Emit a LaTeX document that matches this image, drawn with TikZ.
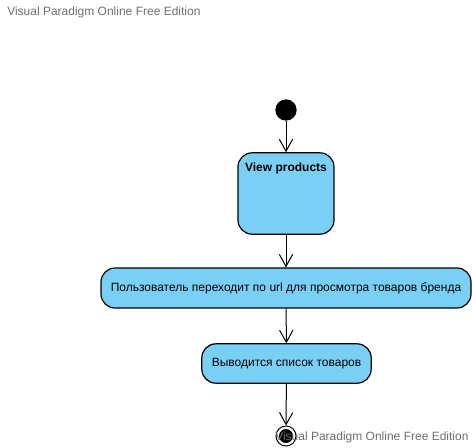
\documentclass[tikz,border=0pt]{standalone}
\usepackage{fontspec}
\setmainfont{Liberation Sans}
\usetikzlibrary{arrows.meta}
\definecolor{actfill}{HTML}{7ACFF5}
\definecolor{wmgray}{HTML}{6E6E6E}
\tikzset{
  act/.style={draw=black, line width=0.9pt, fill=actfill, rounded corners=10.5pt, inner sep=0pt, font=\fontsize{9}{11}\selectfont},
  flow/.style={draw=black, line width=0.75pt, -{Straight Barb[length=9pt,width=10pt,line width=0.75pt]}},
  wm/.style={text=wmgray, font=\fontsize{9}{11}\selectfont, anchor=west, inner sep=0pt}
}
\begin{document}
\begin{tikzpicture}[x=0.75pt,y=-0.75pt]
\useasboundingbox (0,0) rectangle (472,447);
\node[wm] (wmtop) at (7,12) {Visual Paradigm Online Free Edition};
\node[circle, fill=black, minimum size=16pt, inner sep=0pt] (start) at (286,110) {};
\node[act, minimum width=72pt, minimum height=61pt] (view) at (286,193.5) {};
\node[font=\bfseries\fontsize{9}{11}\selectfont, inner sep=0pt] (viewlabel) at (286,168) {View products};
\node[act, minimum width=277.5pt, minimum height=30pt] (go) at (286,288) {Пользователь переходит по url для просмотра товаров бренда};
\node[act, minimum width=127pt, minimum height=29.5pt] (list) at (286.5,363.5) {Выводится список товаров};
\node[circle, draw=black, line width=0.75pt, fill=white, minimum size=15pt, inner sep=0pt] (end) at (286,436) {};
\node[circle, fill=black, minimum size=10.5pt, inner sep=0pt] (endin) at (286,436) {};
\draw[flow] (start) -- (view);
\draw[flow] (view) -- (go);
\draw[flow] (go) -- (list);
\draw[flow] (list) -- (end);
\node[wm] (wmbot) at (275,437) {Visual Paradigm Online Free Edition};
\end{tikzpicture}
\end{document}
